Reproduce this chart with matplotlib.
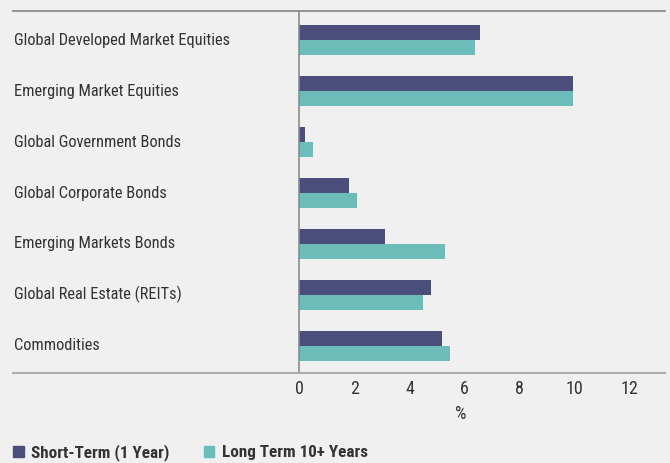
import matplotlib.pyplot as plt
import matplotlib.transforms as mtransforms
from matplotlib.lines import Line2D
from matplotlib.patches import Patch
from matplotlib import font_manager
import numpy as np

categories = ['Global Developed Market Equities', 'Emerging Market Equities',
              'Global Government Bonds', 'Global Corporate Bonds',
              'Emerging Markets Bonds', 'Global Real Estate (REITs)', 'Commodities']
short_term = [6.55, 9.95, 0.2, 1.8, 3.1, 4.78, 5.18]
long_term = [6.38, 9.95, 0.49, 2.09, 5.29, 4.49, 5.47]
xticks = [0, 2, 4, 6, 8, 10, 12]

dark = '#4b4d7a'
teal = '#6cbdb9'
bg = '#f0f0f0'
txt = '#333333'

# pick a condensed face if one is around
names = {f.name for f in font_manager.fontManager.ttflist}
fam = 'Roboto'
for cand in ['Roboto Condensed', 'Liberation Sans Narrow', 'Open Sans Condensed']:
    if cand in names:
        fam = cand
        break
plt.rcParams['font.family'] = [fam, 'DejaVu Sans']

fig = plt.figure(figsize=(6.7, 4.63), dpi=100, facecolor=bg)
ax = fig.add_axes([0.447, 0.195, 0.9936 - 0.447, 0.9756 - 0.195], facecolor=bg)

y = np.arange(len(categories))
h = 0.294
ax.barh(y - h / 2, short_term, height=h, color=dark)
ax.barh(y + h / 2, long_term, height=h, color=teal)

ax.set_ylim(6.53, -0.57)
ax.set_xlim(0, 13.3)
ax.set_xticks(xticks)
ax.set_yticks([])
ax.tick_params(axis='x', length=0, pad=5, labelsize=13, labelcolor=txt)
ax.set_xlabel('%', fontsize=13, color=txt, labelpad=5)
ax.xaxis.set_label_coords(0.441, -0.09)

for s in ['right', 'top', 'bottom']:
    ax.spines[s].set_visible(False)
ax.spines['left'].set_color('#8c8c8c')
ax.spines['left'].set_linewidth(1.2)

# horizontal rules span the whole width
x0, x1 = 13 / 670, 665 / 670
fig.add_artist(Line2D([x0, x1], [0.9756, 0.9756], color='#8c8c8c', lw=1.3))
fig.add_artist(Line2D([x0, x1], [0.195, 0.195], color='#acacac', lw=1.5))

trans = mtransforms.blended_transform_factory(fig.transFigure, ax.transData)
for i, c in enumerate(categories):
    ax.text(14 / 670, i, c, transform=trans, ha='left', va='center',
            fontsize=11.8, color=txt)

handles = [Patch(color=dark, label='Short-Term (1 Year)'),
           Patch(color=teal, label='Long Term 10+ Years')]
fig.legend(handles=handles, loc='lower left', bbox_to_anchor=(13 / 670, 0.004),
           ncol=2, frameon=False, borderpad=0, borderaxespad=0,
           handlelength=0.62, handleheight=0.62,
           handletextpad=0.45, columnspacing=2.0,
           prop={'weight': 'bold', 'size': 12.3})
for t in fig.legends[0].get_texts():
    t.set_color(txt)

fig.savefig('out.png', dpi=100, facecolor=bg)
